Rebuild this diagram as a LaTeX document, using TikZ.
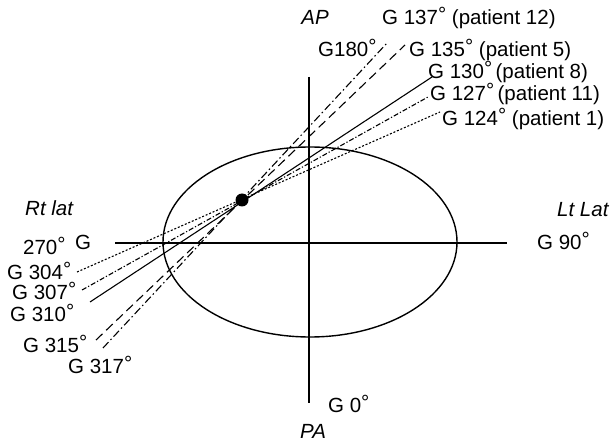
\documentclass[tikz,border=0pt]{standalone}
\usepackage{fontspec}
\setmainfont{Liberation Sans}
\usetikzlibrary{shapes.geometric}
\newcommand{\dg}{\smash{\raisebox{3bp}{°}}}
\begin{document}
\begin{tikzpicture}[x=1bp,y=-1bp,
  lbl/.style={inner sep=0pt,anchor=base west,font=\fontsize{20.5bp}{24bp}\selectfont},
  ital/.style={lbl,font=\fontsize{20.5bp}{24bp}\selectfont\itshape},
  axis/.style={line width=1.1bp},
  ray/.style={line width=1.1bp},
  dd/.style={ray,dash pattern=on 8bp off 3bp on 1.5bp off 3bp},
  ds/.style={ray,dash pattern=on 9bp off 5bp},
  ddf/.style={ray,dash pattern=on 5bp off 2bp on 1.2bp off 2bp},
  dt/.style={ray,dash pattern=on 2bp off 1.8bp}]
\useasboundingbox (0,0) rectangle (614,443);
% axes
\coordinate (vt) at (309,77);
\coordinate (vb) at (309,403);
\coordinate (hl) at (115,243);
\coordinate (hr) at (507,243);
\draw[axis] (vt) -- (vb);
\draw[axis] (hl) -- (hr);
% ellipse
\node[draw,ellipse,line width=1.4bp,minimum width=294bp,minimum height=190bp,inner sep=0pt] (ell) at (310,242) {};
% rays
\coordinate (c) at (242,200);
\coordinate (a137) at (388,42);   \coordinate (b137) at (103,348);
\coordinate (a135) at (405,45);   \coordinate (b135) at (96,340);
\coordinate (a130) at (432,77);   \coordinate (b130) at (90,302);
\coordinate (a127) at (428,97);   \coordinate (b127) at (82,290);
\coordinate (a124) at (440,112);  \coordinate (b124) at (77,272);
\draw[dd] (b137) -- (a137);
\draw[ds] (b135) -- (a135);
\draw[ray] (b130) -- (a130);
\draw[ddf] (b127) -- (a127);
\draw[dt] (b124) -- (a124);
\fill (c) circle (6.5bp);
\node[circle,inner sep=0pt,minimum size=13bp] (dot) at (c) {};
% labels
\node[ital,anchor=base] (ap) at (315,25) {AP};
\node[lbl] (l137) at (382,25) {G 137\dg\ (patient 12)};
\node[lbl] (l180) at (318,57) {G180\dg};
\node[lbl] (l135) at (409,57) {G 135\dg\ (patient 5)};
\node[lbl] (l130) at (428,79) {G 130\dg\,(patient 8)};
\node[lbl] (l127) at (430,101) {G 127\dg\,(patient 11)};
\node[lbl] (l124) at (442,126) {G 124\dg\ (patient 1)};
\node[ital] (rt) at (25,216) {Rt lat};
\node[lbl] (l270) at (23,255) {270\dg};
\node[lbl] (lg) at (75,250) {G};
\node[lbl] (l304) at (7,280) {G 304\dg};
\node[lbl] (l307) at (12,300) {G 307\dg};
\node[lbl] (l310) at (10,321) {G 310\dg};
\node[lbl] (l315) at (23,352) {G 315\dg};
\node[lbl] (l317) at (68,373) {G 317\dg};
\node[ital] (lt) at (557,217) {Lt Lat};
\node[lbl] (l90) at (537,250) {G 90\dg};
\node[lbl] (l0) at (328,412) {G 0\dg};
\node[ital] (pa) at (300,438) {PA};
\end{tikzpicture}
\end{document}
